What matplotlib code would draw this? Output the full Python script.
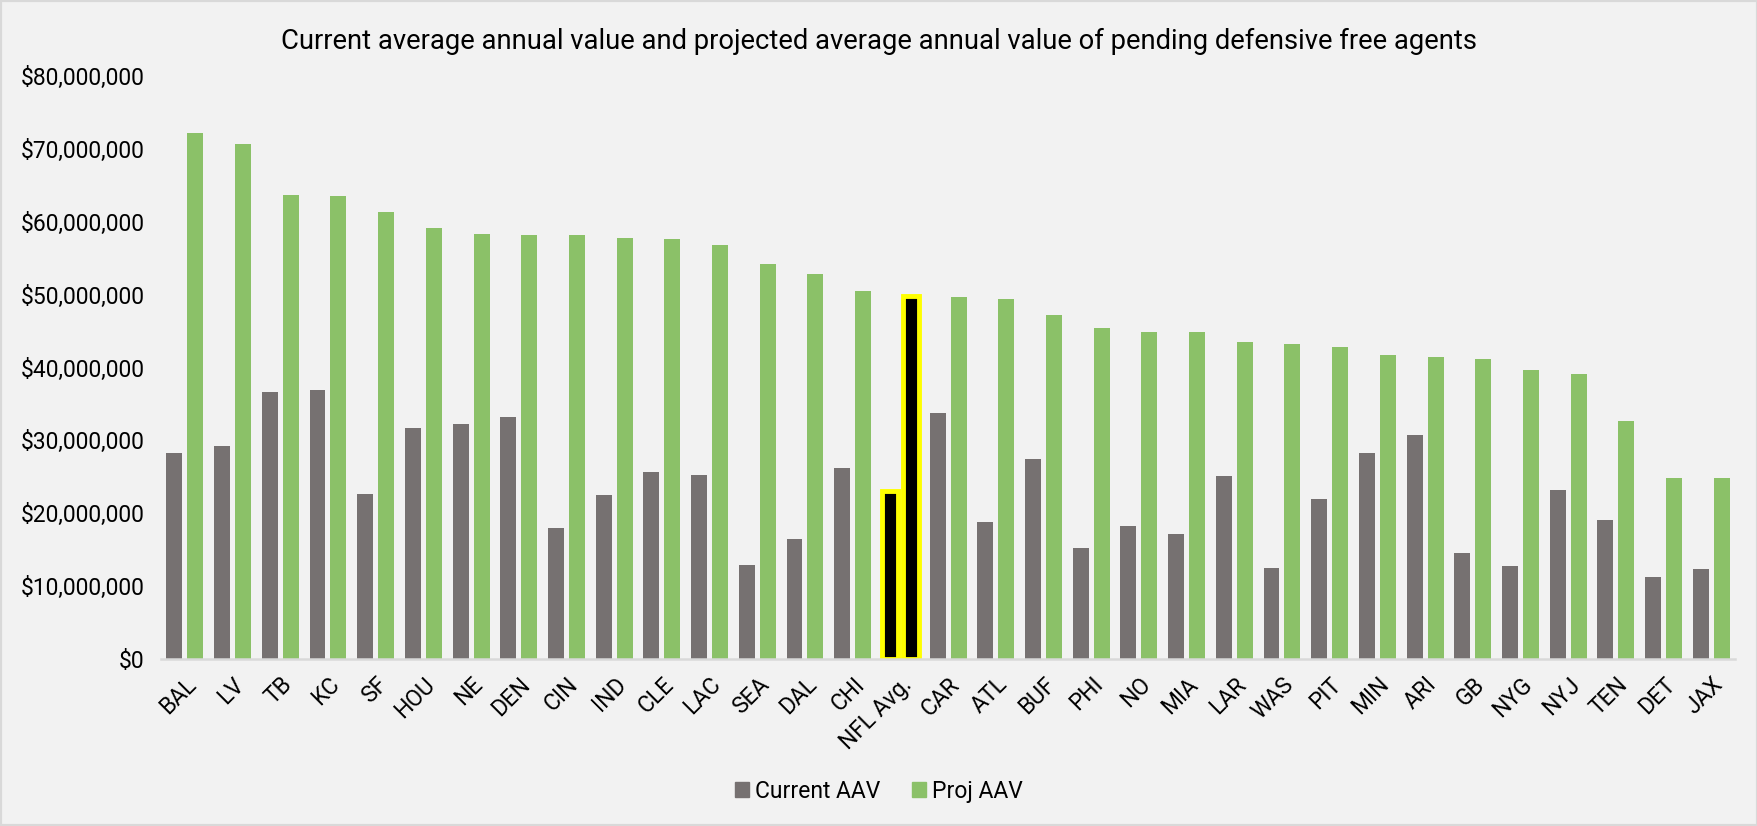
import matplotlib

matplotlib.use("Agg")
import matplotlib.pyplot as plt
import numpy as np
from matplotlib.patches import Rectangle
from matplotlib.ticker import FuncFormatter

plt.rcParams["font.family"] = ["Roboto", "DejaVu Sans"]

TEAMS = [
    "BAL", "LV", "TB", "KC", "SF", "HOU", "NE", "DEN", "CIN", "IND", "CLE",
    "LAC", "SEA", "DAL", "CHI", "NFL Avg.", "CAR", "ATL", "BUF", "PHI", "NO",
    "MIA", "LAR", "WAS", "PIT", "MIN", "ARI", "GB", "NYG", "NYJ", "TEN", "DET", "JAX",
]
CURRENT_AAV = [
    28.3, 29.2, 36.6, 36.9, 22.6, 31.7, 32.3, 33.2, 18.0, 22.5, 25.7,
    25.2, 12.9, 16.5, 26.2, 23.1, 33.8, 18.8, 27.4, 15.2, 18.2,
    17.2, 25.1, 12.5, 22.0, 28.2, 30.8, 14.6, 12.8, 23.2, 19.1, 11.2, 12.3,
]
PROJ_AAV = [
    72.2, 70.6, 63.7, 63.5, 61.4, 59.2, 58.3, 58.2, 58.2, 57.8, 57.7,
    56.8, 54.2, 52.8, 50.5, 49.8, 49.7, 49.4, 47.2, 45.4, 44.9,
    44.9, 43.5, 43.2, 42.8, 41.7, 41.5, 41.1, 39.7, 39.1, 32.6, 24.9, 24.9,
]
HIGHLIGHT = "NFL Avg."

GRAY = "#767171"
GREEN = "#8BC168"
BG = "#F2F2F2"

x = np.arange(len(TEAMS))
current = np.array(CURRENT_AAV) * 1e6
proj = np.array(PROJ_AAV) * 1e6

fig = plt.figure(figsize=(17.58, 8.26), dpi=100, facecolor=BG)
ax = fig.add_axes([0.0916, 0.2022, 0.8954, 0.7058])
ax.set_facecolor(BG)

width = 0.335
bars_cur = ax.bar(x - 0.22, current, width, color=GRAY, label="Current AAV")
bars_proj = ax.bar(x + 0.22, proj, width, color=GREEN, label="Proj AAV")

# NFL average pair is drawn black with a yellow outline
idx = TEAMS.index(HIGHLIGHT)
for bar in (bars_cur[idx], bars_proj[idx]):
    bar.set_facecolor("black")
    bar.set_edgecolor("#FFFF00")
    bar.set_linewidth(3.5)

ax.set_xlim(-0.5, len(TEAMS) - 0.5)
ax.set_ylim(0, 80e6)
ax.set_yticks(np.arange(0, 80e6 + 1, 10e6))
ax.yaxis.set_major_formatter(FuncFormatter(lambda v, _: f"${v:,.0f}"))
ax.set_xticks(x)
ax.set_xticklabels(TEAMS, rotation=45, ha="right", rotation_mode="anchor")
ax.tick_params(axis="both", length=0, labelsize=16.4, colors="black")
ax.tick_params(axis="y", pad=12)
ax.tick_params(axis="x", pad=10)

for side in ("top", "right", "left"):
    ax.spines[side].set_visible(False)
ax.spines["bottom"].set_color("#D9D9D9")
ax.spines["bottom"].set_linewidth(1.8)

fig.suptitle(
    "Current average annual value and projected average annual value of pending defensive free agents",
    fontsize=19.7, y=0.966,
)

handles = [bars_cur.patches[0], bars_proj.patches[0]]
leg = fig.legend(
    handles, ["Current AAV", "Proj AAV"], loc="center", bbox_to_anchor=(0.5, 0.042),
    ncol=2, frameon=False, fontsize=16.5, handlelength=0.6, handleheight=0.6,
    handletextpad=0.25, columnspacing=1.4,
)
leg.legend_handles[0].set_facecolor(GRAY)
leg.legend_handles[0].set_edgecolor(GRAY)
leg.legend_handles[1].set_facecolor(GREEN)
leg.legend_handles[1].set_edgecolor(GREEN)

fig.patches.append(
    Rectangle((0, 0), 1, 1, transform=fig.transFigure, fill=False,
              edgecolor="#D9D9D9", linewidth=3)
)

fig.savefig("out.png", dpi=100, facecolor=BG)
